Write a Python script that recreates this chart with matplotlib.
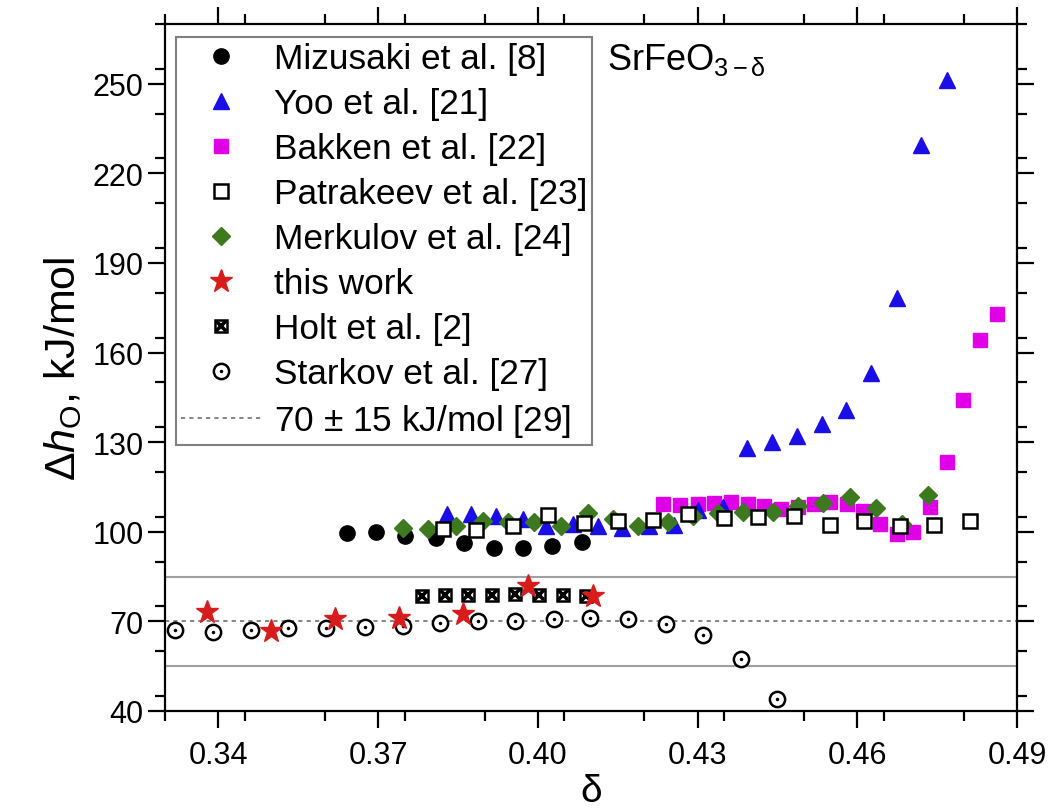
import numpy as np
import matplotlib.pyplot as plt
from matplotlib.ticker import MultipleLocator

plt.rcParams['font.family'] = ['Liberation Sans', 'DejaVu Sans']
plt.rcParams['mathtext.fontset'] = 'custom'
plt.rcParams['mathtext.rm'] = 'Liberation Sans'
plt.rcParams['mathtext.it'] = 'Liberation Sans:italic'

# Mizusaki et al. [8]
miz_d = [0.3642, 0.3696, 0.3751, 0.3809, 0.3861, 0.3918, 0.3972, 0.4026, 0.4083]
miz_h = [99.7, 100.0, 98.7, 98.0, 96.3, 94.6, 94.6, 95.3, 96.6]

# Yoo et al. [21]
yoo_d = [0.3829, 0.3874, 0.3921, 0.3972, 0.4015, 0.4066, 0.4113, 0.4159, 0.4208,
         0.4255, 0.4300, 0.4347, 0.4392, 0.4439, 0.4486, 0.4534, 0.4579, 0.4626,
         0.4675, 0.4720, 0.4769]
yoo_h = [106.0, 106.0, 105.4, 104.4, 102.0, 102.7, 102.0, 101.3, 102.0,
         102.3, 107.4, 108.4, 127.9, 130.2, 132.2, 136.2, 140.6, 153.0,
         178.2, 229.5, 251.3]

# Bakken et al. [22]
bak_d = [0.4236, 0.4268, 0.4300, 0.4330, 0.4362, 0.4394, 0.4424, 0.4456, 0.4488,
         0.4518, 0.4549, 0.4581, 0.4611, 0.4643, 0.4675, 0.4705, 0.4737, 0.4769,
         0.4799, 0.4831, 0.4863]
bak_h = [109.4, 109.1, 109.4, 109.7, 110.1, 109.4, 108.7, 107.7, 108.4,
         109.4, 110.1, 109.4, 107.0, 102.7, 99.3, 100.0, 108.4, 123.5,
         144.0, 164.1, 172.8]

# Patrakeev et al. [23]
pat_d = [0.3822, 0.3884, 0.3953, 0.4019, 0.4086, 0.4150, 0.4216, 0.4283,
         0.4349, 0.4414, 0.4482, 0.4548, 0.4613, 0.4681, 0.4744, 0.4812]
pat_h = [101.0, 100.7, 102.0, 105.7, 103.0, 103.7, 104.0, 106.0,
         104.7, 105.0, 105.4, 102.3, 103.7, 102.0, 102.3, 103.7]

# Merkulov et al. [24]
mer_d = [0.3747, 0.3794, 0.3846, 0.3897, 0.3944, 0.3993, 0.4043, 0.4094, 0.4141,
         0.4189, 0.4244, 0.4291, 0.4339, 0.4386, 0.4441, 0.4488, 0.4536, 0.4587,
         0.4636, 0.4684, 0.4733]
mer_h = [101.3, 101.0, 102.0, 103.7, 103.4, 103.4, 102.0, 106.4, 104.4,
         102.0, 103.4, 105.4, 106.4, 106.7, 106.7, 108.7, 109.7, 111.7,
         108.1, 102.7, 112.4]

# this work
tw_d = [0.3378, 0.3499, 0.3619, 0.3739, 0.3859, 0.3981, 0.4103]
tw_h = [73.2, 66.8, 70.8, 71.1, 72.5, 81.9, 78.5]

# Holt et al. [2]
holt_d = [0.3783, 0.3826, 0.3869, 0.3914, 0.3957, 0.4002, 0.4047, 0.4090]
holt_h = [78.5, 78.7, 78.8, 78.9, 79.0, 78.9, 78.8, 78.6]

# Starkov et al. [27]
sta_d = [0.3319, 0.3391, 0.3462, 0.3531, 0.3603, 0.3676, 0.3747, 0.3816, 0.3888,
         0.3957, 0.4030, 0.4099, 0.4169, 0.4240, 0.4311, 0.4381, 0.4450]
sta_h = [67.1, 66.4, 67.1, 67.8, 67.8, 68.1, 68.5, 69.5, 70.1,
         70.1, 70.8, 71.1, 70.8, 69.1, 65.4, 57.4, 44.0]

ref_mid = 70
ref_err = 15

fig = plt.figure(figsize=(10.51, 8.12), dpi=100)
ax = fig.add_axes([0.157, 0.1232, 0.8107, 0.846])

ax.axhline(ref_mid + ref_err, color='#a0a0a0', lw=1.5, zorder=1)
ax.axhline(ref_mid - ref_err, color='#a0a0a0', lw=1.5, zorder=1)
ref_line, = ax.plot([0.33, 0.49], [ref_mid, ref_mid], color='#707070', lw=1.2,
                    ls=(0, (2.5, 2.5)), zorder=1)

h_miz, = ax.plot(miz_d, miz_h, 'o', color='black', ms=11, ls='none', zorder=2)
h_bak, = ax.plot(bak_d, bak_h, 's', color='#e000e8', ms=9.5, ls='none', zorder=3)
h_yoo, = ax.plot(yoo_d, yoo_h, '^', color='#1a0ee6', ms=12, ls='none', zorder=4)
h_mer, = ax.plot(mer_d, mer_h, 'D', color='#3d7a1f', ms=9, ls='none', zorder=5)
h_pat, = ax.plot(pat_d, pat_h, 's', mfc='white', mec='black', mew=1.8, ms=9.5,
                 ls='none', zorder=6)

h_holt1, = ax.plot(holt_d, holt_h, 's', mfc='white', mec='black', mew=1.8, ms=9,
                   ls='none', zorder=6)
h_holt2, = ax.plot(holt_d, holt_h, 'x', color='black', mew=2.6, ms=7, ls='none', zorder=6)

h_sta1, = ax.plot(sta_d, sta_h, 'o', mfc='white', mec='black', mew=1.8, ms=11,
                  ls='none', zorder=6)
h_sta2, = ax.plot(sta_d, sta_h, '.', color='black', ms=3, ls='none', zorder=6)

h_tw, = ax.plot(tw_d, tw_h, '*', color='#d81c1c', ms=17, ls='none', zorder=7)

ax.set_xlim(0.33, 0.49)
ax.set_ylim(40, 270)
ax.xaxis.set_minor_locator(MultipleLocator(0.015))
ax.yaxis.set_minor_locator(MultipleLocator(15))
ax.set_xticks([0.34, 0.37, 0.40, 0.43, 0.46, 0.49])
ax.set_xticklabels(['0.34', '0.37', '0.40', '0.43', '0.46', '0.49'])
ax.set_yticks([40, 70, 100, 130, 160, 190, 220, 250])

ax.tick_params(which='both', direction='out', top=True, right=True,
               labeltop=False, labelright=False, width=1.6, labelsize=22)
ax.tick_params(which='major', length=12)
ax.tick_params(which='minor', length=7)
ax.tick_params(axis='x', which='major', pad=9)
ax.tick_params(axis='y', which='major', pad=3.5)
for sp in ax.spines.values():
    sp.set_linewidth(1.6)

ax.set_xlabel('δ', fontsize=28, labelpad=2)
ax.set_ylabel(r'$\Delta\mathit{h}_{\mathregular{O}}$, kJ/mol', fontsize=31, labelpad=6)

ax.text(0.519, 0.934, r'SrFeO$_{\mathregular{3-\delta}}$', transform=ax.transAxes,
        fontsize=26, ha='left', va='baseline')

handles = [h_miz, h_yoo, h_bak, h_pat, h_mer, h_tw, (h_holt1, h_holt2),
           (h_sta1, h_sta2), ref_line]
labels = ['Mizusaki et al. [8]', 'Yoo et al. [21]', 'Bakken et al. [22]',
          'Patrakeev et al. [23]', 'Merkulov et al. [24]', 'this work',
          'Holt et al. [2]', 'Starkov et al. [27]', r'70 $\pm$ 15 kJ/mol [29]']
leg = ax.legend(handles, labels, loc='upper left', bbox_to_anchor=(0.013, 0.981),
                borderaxespad=0, fontsize=25.4, frameon=True, fancybox=False,
                edgecolor='#808080', framealpha=1, labelspacing=0.34,
                handlelength=2.25, handletextpad=0.37, borderpad=0.15)
leg.get_frame().set_linewidth(1.5)

fig.savefig('out.png', dpi=100)
